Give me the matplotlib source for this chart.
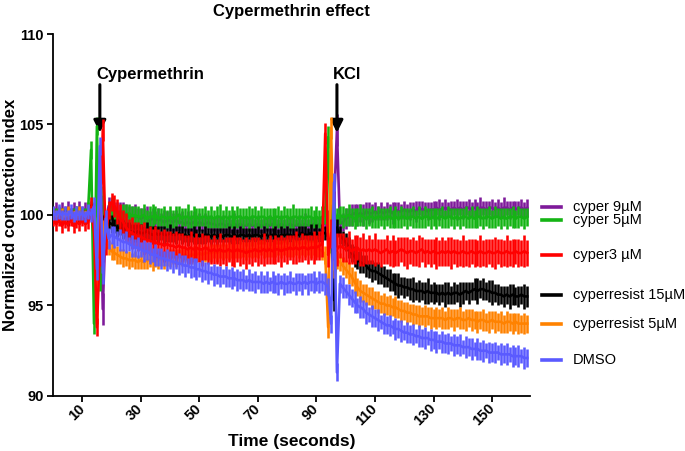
import numpy as np
import matplotlib
matplotlib.use("Agg")
import matplotlib.pyplot as plt

plt.rcParams['font.family'] = ['Liberation Sans', 'DejaVu Sans']

# time in seconds, one sample per second
time = list(range(163))

cyper9 = [
    100.2, 100.3, 100.1, 100.3, 100.2, 100.4, 100.1, 100.3, 100.2, 100.4,
    100.2, 100.3, 100.1, 100.4, 100.2, 100.5, 103.0, 94.8, 99.6, 100.5,
    100.3, 100.2, 100.1, 100.2, 100.0, 100.1, 99.9, 100.0, 99.9, 99.9,
    99.8, 99.9, 99.8, 99.7, 99.8, 99.7, 99.8, 99.7, 99.6, 99.7,
    99.7, 99.6, 99.7, 99.6, 99.6, 99.5, 99.6, 99.5, 99.6, 99.5,
    99.6, 99.5, 99.5, 99.6, 99.5, 99.5, 99.4, 99.5, 99.5, 99.4,
    99.5, 99.4, 99.5, 99.4, 99.5, 99.4, 99.4, 99.5, 99.4, 99.4,
    99.5, 99.4, 99.4, 99.5, 99.4, 99.5, 99.4, 99.4, 99.5, 99.4,
    99.4, 99.5, 99.4, 99.4, 99.5, 99.4, 99.5, 99.4, 99.4, 99.5,
    99.4, 99.5, 99.4, 99.6, 99.8, 100.0, 100.5, 104.7, 99.5, 99.6,
    99.8, 99.9, 100.0, 100.1, 100.0, 100.1, 100.0, 100.2, 100.1, 100.1,
    100.2, 100.1, 100.2, 100.1, 100.2, 100.2, 100.1, 100.3, 100.2, 100.2,
    100.3, 100.2, 100.2, 100.3, 100.2, 100.4, 100.3, 100.3, 100.2, 100.3,
    100.3, 100.4, 100.3, 100.3, 100.4, 100.3, 100.3, 100.4, 100.3, 100.4,
    100.3, 100.4, 100.4, 100.3, 100.4, 100.3, 100.4, 100.4, 100.3, 100.4,
    100.4, 100.3, 100.4, 100.3, 100.4, 100.4, 100.3, 100.4, 100.3, 100.4,
    100.4, 100.3, 100.4]
cyper9_err = [
    .3, .4, .3, .4, .3, .4, .3, .4, .3, .4,
    .3, .4, .3, .4, .5, .6, .8, .9, .6, .5,
    .6, .5, .6, .5, .7, .5, .6, .5, .7, .5,
    .6, .5, .7, .5, .6, .5, .6, .4, .7, .5,
    .6, .5, .6, .5, .6, .4, .6, .5, .6, .5,
    .5, .4, .6, .4, .5, .4, .6, .4, .5, .4,
    .5, .4, .6, .4, .5, .4, .5, .4, .6, .4,
    .5, .4, .5, .4, .6, .4, .5, .4, .5, .4,
    .6, .4, .5, .4, .5, .4, .6, .4, .5, .4,
    .5, .4, .5, .4, .5, .6, .8, .9, .5, .5,
    .6, .5, .6, .5, .6, .5, .6, .5, .6, .5,
    .5, .4, .5, .4, .5, .4, .6, .4, .5, .4,
    .5, .4, .5, .4, .6, .4, .5, .4, .5, .4,
    .5, .4, .6, .4, .5, .4, .5, .4, .6, .4,
    .5, .4, .5, .4, .5, .4, .6, .4, .5, .4,
    .5, .4, .5, .4, .6, .4, .5, .4, .5, .4,
    .5, .4, .5]

cyper5 = [
    100.1, 100.0, 100.2, 100.0, 100.1, 99.9, 100.1, 100.0, 100.2, 100.0,
    100.1, 100.0, 100.3, 103.6, 94.0, 104.9, 96.5, 101.0, 98.8, 100.2,
    100.4, 99.8, 99.6, 99.8, 100.0, 99.9, 100.1, 99.9, 100.0, 99.9,
    99.9, 100.0, 99.8, 99.9, 99.9, 100.0, 99.8, 99.9, 99.9, 99.8,
    99.9, 99.8, 99.9, 100.0, 99.8, 99.9, 99.9, 99.8, 99.9, 99.9,
    99.8, 99.9, 99.9, 99.8, 99.9, 99.8, 99.9, 99.9, 99.8, 99.9,
    99.8, 99.9, 99.8, 99.9, 99.9, 99.8, 99.9, 99.8, 99.9, 99.9,
    99.8, 99.9, 99.9, 99.8, 99.9, 99.8, 99.9, 99.9, 99.8, 99.9,
    99.9, 99.8, 99.9, 99.9, 99.8, 99.9, 99.8, 99.9, 99.9, 99.8,
    99.9, 99.8, 99.9, 100.0, 104.3, 98.5, 100.2, 99.8, 100.0, 99.9,
    99.9, 100.0, 99.9, 99.8, 99.9, 100.0, 99.9, 99.8, 99.9, 99.9,
    99.8, 99.9, 99.9, 99.8, 99.9, 99.9, 99.8, 99.9, 99.8, 99.9,
    99.9, 99.8, 99.9, 99.9, 99.8, 99.9, 99.8, 99.9, 99.9, 99.8,
    99.9, 99.8, 99.9, 99.9, 99.8, 99.9, 99.9, 99.8, 99.9, 99.8,
    99.9, 99.9, 99.8, 99.9, 99.8, 99.9, 99.9, 99.8, 99.9, 99.9,
    99.8, 99.9, 99.9, 99.8, 99.9, 99.8, 99.9, 99.9, 99.8, 99.9,
    99.9, 99.8, 99.9]
cyper5_err = [
    .3, .4, .3, .4, .3, .4, .3, .4, .3, .4,
    .3, .4, .4, .5, .6, .5, .7, .6, .6, .5,
    .6, .5, .6, .5, .6, .7, .5, .6, .5, .6,
    .5, .6, .5, .6, .7, .5, .6, .5, .6, .5,
    .6, .5, .6, .5, .6, .5, .7, .5, .6, .5,
    .6, .5, .6, .5, .6, .5, .6, .7, .5, .6,
    .5, .6, .5, .6, .5, .6, .5, .7, .5, .6,
    .5, .6, .5, .6, .5, .6, .5, .6, .5, .6,
    .5, .6, .7, .5, .6, .5, .6, .5, .6, .5,
    .6, .5, .6, .5, .6, .6, .5, .6, .5, .6,
    .5, .6, .5, .6, .5, .6, .5, .6, .5, .6,
    .5, .6, .5, .6, .5, .6, .5, .6, .5, .6,
    .5, .6, .5, .6, .5, .6, .5, .6, .5, .6,
    .5, .6, .5, .6, .5, .6, .5, .6, .5, .6,
    .5, .6, .5, .6, .5, .6, .5, .6, .5, .6,
    .5, .6, .5, .6, .5, .6, .5, .6, .5, .6,
    .5, .6, .5]

cyper3 = [
    99.7, 99.5, 99.7, 99.4, 99.6, 99.5, 99.7, 99.4, 99.6, 99.5,
    99.7, 99.5, 99.6, 100.4, 99.0, 93.8, 98.0, 104.7, 98.4, 100.3,
    100.7, 100.5, 100.2, 99.8, 99.6, 99.3, 99.1, 99.0, 98.9, 98.8,
    98.8, 98.7, 98.6, 98.6, 98.5, 98.5, 98.4, 98.4, 98.3, 98.4,
    98.3, 98.3, 98.2, 98.3, 98.2, 98.2, 98.1, 98.2, 98.1, 98.2,
    98.1, 98.1, 98.2, 98.1, 98.0, 98.1, 98.0, 98.1, 98.0, 98.0,
    98.1, 98.0, 98.0, 98.1, 98.0, 98.0, 97.9, 98.0, 98.0, 98.1,
    98.0, 98.0, 98.1, 98.0, 98.1, 98.0, 98.1, 98.1, 98.0, 98.1,
    98.1, 98.2, 98.1, 98.2, 98.1, 98.2, 98.2, 98.1, 98.2, 98.2,
    98.2, 98.3, 98.4, 104.5, 97.8, 99.0, 98.2, 98.1, 98.3, 98.2,
    98.1, 98.2, 98.0, 98.1, 98.2, 98.0, 98.1, 98.0, 98.1, 98.0,
    98.1, 98.0, 97.9, 98.0, 98.1, 97.9, 98.0, 97.9, 98.0, 98.1,
    98.0, 97.9, 98.0, 98.0, 97.9, 98.0, 98.1, 97.9, 98.0, 97.9,
    98.0, 97.9, 97.9, 98.0, 97.9, 98.0, 97.9, 98.0, 97.9, 97.9,
    98.0, 97.9, 97.9, 98.0, 97.9, 97.9, 98.0, 97.9, 97.9, 98.0,
    97.9, 97.9, 98.0, 97.9, 97.9, 98.0, 97.9, 97.9, 98.0, 97.9,
    97.9, 98.0, 97.9]
cyper3_err = [
    .3, .4, .3, .4, .3, .4, .3, .4, .3, .4,
    .3, .4, .4, .6, .7, .5, .8, .6, .6, .5,
    .5, .6, .7, .8, .7, .8, .7, .9, .7, .8,
    .7, .9, .7, .8, .7, .9, .8, .7, .9, .7,
    .8, .7, .9, .7, .8, .7, .8, .9, .7, .8,
    .7, .9, .7, .8, .7, .8, .7, .9, .7, .8,
    .7, .8, .9, .7, .8, .7, .9, .7, .8, .7,
    .8, .7, .9, .7, .8, .7, .8, .7, .9, .7,
    .8, .7, .8, .9, .7, .8, .7, .8, .7, .9,
    .7, .8, .7, .6, .7, .8, .7, .9, .7, .8,
    .7, .9, .7, .8, .7, .8, .9, .7, .8, .7,
    .9, .7, .8, .7, .8, .7, .9, .7, .8, .7,
    .8, .9, .7, .8, .7, .9, .7, .8, .7, .8,
    .7, .9, .7, .8, .7, .8, .9, .7, .8, .7,
    .9, .7, .8, .7, .8, .7, .9, .7, .8, .7,
    .8, .9, .7, .8, .7, .9, .7, .8, .7, .8,
    .7, .9, .7]

resist15 = [
    100.0, 99.9, 100.1, 99.9, 100.0, 99.8, 100.0, 99.9, 100.0, 99.9,
    100.0, 99.9, 100.0, 100.2, 99.8, 97.5, 101.0, 99.6, 99.7, 99.6,
    99.5, 99.4, 99.3, 99.3, 99.2, 99.2, 99.1, 99.1, 99.0, 99.1,
    99.0, 99.0, 99.1, 99.0, 98.9, 99.0, 98.9, 99.0, 98.9, 98.9,
    99.0, 98.9, 98.9, 99.0, 98.9, 98.9, 98.8, 98.9, 98.9, 98.8,
    98.9, 98.8, 98.9, 98.9, 98.8, 98.9, 98.8, 98.9, 98.8, 98.9,
    98.9, 98.8, 98.9, 98.8, 98.9, 98.9, 98.8, 98.9, 98.8, 98.9,
    98.9, 98.8, 98.9, 98.9, 98.8, 98.9, 98.9, 98.8, 98.9, 98.9,
    98.9, 98.9, 98.8, 98.9, 98.9, 99.0, 98.9, 98.9, 99.0, 98.9,
    99.0, 98.9, 99.0, 99.0, 98.8, 99.2, 95.3, 99.3, 98.9, 98.7,
    98.5, 98.2, 97.9, 97.7, 97.5, 97.4, 97.3, 97.2, 97.0, 96.9,
    96.9, 96.8, 96.7, 96.6, 96.5, 96.4, 96.3, 96.2, 96.1, 96.1,
    96.0, 96.0, 95.9, 95.9, 95.8, 95.8, 95.8, 95.7, 95.8, 95.7,
    95.7, 95.7, 95.6, 95.7, 95.6, 95.7, 95.6, 95.7, 95.7, 95.6,
    95.7, 95.8, 95.7, 95.8, 95.9, 95.8, 95.9, 95.9, 95.8, 95.8,
    95.7, 95.7, 95.6, 95.6, 95.5, 95.6, 95.5, 95.6, 95.5, 95.5,
    95.6, 95.5, 95.5]
resist15_err = [
    .3, .4, .3, .4, .3, .4, .3, .4, .3, .4,
    .3, .4, .3, .4, .5, .6, .5, .4, .5, .4,
    .5, .4, .5, .4, .5, .4, .5, .4, .5, .4,
    .5, .4, .5, .4, .5, .4, .5, .4, .5, .4,
    .5, .4, .5, .4, .5, .4, .5, .4, .5, .4,
    .5, .4, .5, .4, .5, .4, .5, .4, .5, .4,
    .5, .4, .5, .4, .5, .4, .5, .4, .5, .4,
    .5, .4, .5, .4, .5, .4, .5, .4, .5, .4,
    .5, .4, .5, .4, .5, .4, .5, .4, .5, .4,
    .5, .4, .5, .4, .5, .5, .6, .5, .5, .4,
    .5, .6, .5, .6, .5, .6, .5, .6, .5, .6,
    .5, .6, .5, .6, .5, .6, .5, .6, .7, .5,
    .6, .5, .6, .7, .5, .6, .5, .6, .7, .5,
    .6, .5, .6, .5, .7, .6, .5, .6, .5, .7,
    .6, .5, .6, .5, .6, .7, .5, .6, .5, .6,
    .7, .5, .6, .5, .6, .5, .7, .6, .5, .6,
    .5, .7, .6]

resist5 = [
    100.0, 99.9, 100.1, 100.0, 99.9, 100.1, 100.0, 99.9, 100.0, 100.1,
    100.0, 99.9, 100.0, 100.1, 100.0, 94.6, 101.0, 99.2, 98.6, 98.2,
    98.0, 97.9, 97.8, 97.7, 97.6, 97.6, 97.5, 97.5, 97.5, 97.4,
    97.5, 97.4, 97.5, 97.5, 97.4, 97.5, 97.5, 97.6, 97.5, 97.6,
    97.6, 97.7, 97.6, 97.7, 97.7, 97.8, 97.7, 97.8, 97.8, 97.8,
    97.9, 97.8, 97.9, 97.9, 97.9, 98.0, 97.9, 98.0, 98.0, 98.0,
    98.0, 98.0, 98.1, 98.0, 98.1, 98.1, 98.0, 98.1, 98.1, 98.1,
    98.1, 98.2, 98.1, 98.1, 98.2, 98.1, 98.2, 98.2, 98.1, 98.2,
    98.2, 98.1, 98.2, 98.2, 98.1, 98.2, 98.2, 98.2, 98.1, 98.2,
    98.2, 98.1, 98.0, 97.8, 93.8, 104.8, 97.0, 97.5, 97.4, 97.2,
    97.0, 96.8, 96.6, 96.3, 96.0, 95.8, 95.7, 95.6, 95.5, 95.4,
    95.3, 95.2, 95.1, 95.1, 95.0, 95.0, 94.9, 94.9, 94.8, 94.7,
    94.7, 94.6, 94.6, 94.5, 94.5, 94.4, 94.4, 94.4, 94.4, 94.3,
    94.3, 94.3, 94.3, 94.3, 94.2, 94.3, 94.3, 94.2, 94.3, 94.3,
    94.2, 94.2, 94.3, 94.2, 94.2, 94.1, 94.2, 94.2, 94.1, 94.1,
    94.2, 94.1, 94.1, 94.1, 94.0, 94.1, 94.1, 94.0, 94.1, 94.0,
    94.0, 94.0, 94.0]
resist5_err = [
    .3, .4, .3, .4, .3, .4, .3, .4, .3, .4,
    .3, .4, .3, .4, .5, .6, .5, .5, .5, .4,
    .5, .4, .5, .4, .5, .4, .5, .4, .5, .4,
    .5, .4, .5, .4, .5, .4, .5, .4, .5, .4,
    .5, .4, .5, .4, .5, .4, .5, .4, .5, .4,
    .5, .4, .5, .4, .5, .4, .5, .4, .5, .4,
    .5, .4, .5, .4, .5, .4, .5, .4, .5, .4,
    .5, .4, .5, .4, .5, .4, .5, .4, .5, .4,
    .5, .4, .5, .4, .5, .4, .5, .4, .5, .4,
    .5, .4, .5, .5, .6, .6, .5, .5, .5, .5,
    .5, .6, .5, .6, .5, .6, .5, .6, .5, .6,
    .5, .6, .5, .6, .5, .6, .5, .6, .5, .6,
    .5, .6, .5, .6, .5, .6, .5, .6, .5, .6,
    .5, .6, .5, .6, .5, .6, .5, .6, .5, .6,
    .5, .6, .5, .6, .5, .6, .5, .6, .5, .6,
    .5, .6, .5, .6, .5, .6, .5, .6, .5, .6,
    .5, .6, .5]

dmso = [
    100.1, 100.0, 100.2, 100.0, 100.1, 100.0, 100.2, 99.9, 100.1, 100.0,
    100.1, 99.9, 100.2, 100.0, 100.5, 97.0, 103.8, 96.8, 99.8, 98.7,
    98.9, 98.8, 98.7, 98.6, 98.5, 98.5, 98.4, 98.3, 98.2, 98.2,
    98.1, 98.0, 98.0, 97.9, 97.8, 97.8, 97.7, 97.6, 97.6, 97.5,
    97.5, 97.4, 97.4, 97.3, 97.3, 97.2, 97.2, 97.1, 97.1, 97.0,
    97.0, 96.9, 96.9, 96.8, 96.8, 96.7, 96.7, 96.6, 96.6, 96.6,
    96.5, 96.5, 96.5, 96.4, 96.4, 96.4, 96.3, 96.4, 96.3, 96.3,
    96.3, 96.3, 96.2, 96.3, 96.2, 96.3, 96.2, 96.2, 96.3, 96.2,
    96.2, 96.3, 96.2, 96.2, 96.3, 96.2, 96.3, 96.2, 96.3, 96.3,
    96.2, 96.3, 96.3, 96.2, 96.0, 94.0, 101.8, 91.3, 96.2, 96.0,
    95.8, 95.6, 95.4, 95.2, 95.0, 94.9, 94.8, 94.6, 94.5, 94.4,
    94.3, 94.2, 94.1, 94.0, 93.9, 93.9, 93.8, 93.7, 93.7, 93.6,
    93.5, 93.5, 93.4, 93.4, 93.3, 93.3, 93.2, 93.2, 93.2, 93.1,
    93.1, 93.0, 93.0, 93.0, 92.9, 92.9, 92.9, 92.8, 92.8, 92.8,
    92.7, 92.7, 92.7, 92.6, 92.6, 92.6, 92.5, 92.5, 92.5, 92.4,
    92.4, 92.4, 92.4, 92.3, 92.3, 92.3, 92.3, 92.2, 92.2, 92.2,
    92.2, 92.1, 92.1]
dmso_err = [
    .4, .3, .4, .3, .4, .3, .4, .3, .4, .3,
    .4, .3, .4, .4, .5, .6, .5, .6, .5, .6,
    .5, .6, .4, .6, .5, .6, .4, .6, .5, .6,
    .4, .6, .5, .6, .4, .6, .5, .6, .4, .6,
    .5, .6, .4, .6, .5, .6, .4, .6, .5, .6,
    .4, .6, .5, .6, .4, .6, .5, .6, .4, .6,
    .5, .6, .4, .6, .5, .6, .4, .6, .5, .6,
    .4, .6, .5, .6, .4, .6, .5, .6, .4, .6,
    .5, .6, .4, .6, .5, .6, .4, .6, .5, .6,
    .4, .6, .5, .6, .5, .5, .5, .5, .5, .6,
    .4, .6, .5, .6, .4, .6, .5, .6, .4, .6,
    .5, .6, .4, .6, .5, .6, .4, .6, .5, .6,
    .4, .6, .5, .6, .4, .6, .5, .6, .4, .6,
    .5, .6, .4, .6, .5, .6, .4, .6, .5, .6,
    .4, .6, .5, .6, .4, .6, .5, .6, .4, .6,
    .5, .6, .4, .6, .5, .6, .4, .6, .5, .6,
    .4, .6, .5]

labels = ['cyper 9µM', 'cyper 5µM', 'cyper3 µM',
          'cyperresist 15µM', 'cyperresist 5µM', 'DMSO']
means = [cyper9, cyper5, cyper3, resist15, resist5, dmso]
errs = [cyper9_err, cyper5_err, cyper3_err, resist15_err, resist5_err, dmso_err]
colors = ['#7E1A9A', '#14B414', '#FF0000', '#000000', '#FF8200', '#5A5AFF']
layers = [2, 3, 6, 4, 5, 7]
# where each legend entry sits, in data units, next to the line ends
legend_y = [100.45, 99.75, 97.8, 95.6, 94.0, 92.0]

fig = plt.figure(figsize=(6.85, 4.51), dpi=100)
ax = fig.add_axes([0.0774, 0.122, 0.6965, 0.8026])

for m, e, c, z in zip(means, errs, colors, layers):
    ax.errorbar(time, m, yerr=e, color=c, lw=1.9, elinewidth=1.85,
                capsize=0, zorder=z)

# legend drawn beside the line ends
for lab, c, ly in zip(labels, colors, legend_y):
    ax.plot([167.2, 173.7], [ly, ly], color=c, lw=2.6, clip_on=False)
    ax.text(177.5, ly, lab, fontsize=10.5, va='center', ha='left',
            clip_on=False)

# treatment markers
ax.text(33.4, 107.75, 'Cypermethrin', fontsize=12, fontweight='bold',
        ha='center', va='center')
ax.annotate('', xy=(16, 104.55), xytext=(16, 107.2),
            arrowprops=dict(arrowstyle='-|>', color='k', lw=2.2,
                            mutation_scale=18, shrinkA=0, shrinkB=0))
ax.text(100.3, 107.75, 'KCl', fontsize=12, fontweight='bold',
        ha='center', va='center')
ax.annotate('', xy=(97, 104.55), xytext=(97, 107.2),
            arrowprops=dict(arrowstyle='-|>', color='k', lw=2.2,
                            mutation_scale=18, shrinkA=0, shrinkB=0))

ax.set_xlim(0, 163)
ax.set_ylim(90, 110)
ax.set_yticks([90, 95, 100, 105, 110])
ax.set_xticks(list(range(10, 160, 20)))
for lbl in ax.get_xticklabels():
    lbl.set_rotation(45)
    lbl.set_ha('right')
    lbl.set_va('center')
    lbl.set_rotation_mode('anchor')
for lbl in ax.get_xticklabels() + ax.get_yticklabels():
    lbl.set_fontweight('bold')
    lbl.set_fontsize(10.5)

ax.spines['top'].set_visible(False)
ax.spines['right'].set_visible(False)
for s in ['left', 'bottom']:
    ax.spines[s].set_linewidth(1.3)
ax.tick_params(width=1.3, length=4.5, pad=3)
ax.tick_params(axis='y', pad=2)

ax.set_title('Cypermethrin effect', fontsize=12, fontweight='bold', pad=13)
ax.set_xlabel('Time (seconds)', fontsize=12.5, fontweight='bold', labelpad=4)
ax.set_ylabel('Normalized contraction index', fontsize=12,
              fontweight='bold', labelpad=1)

fig.savefig('out.png', dpi=100)
